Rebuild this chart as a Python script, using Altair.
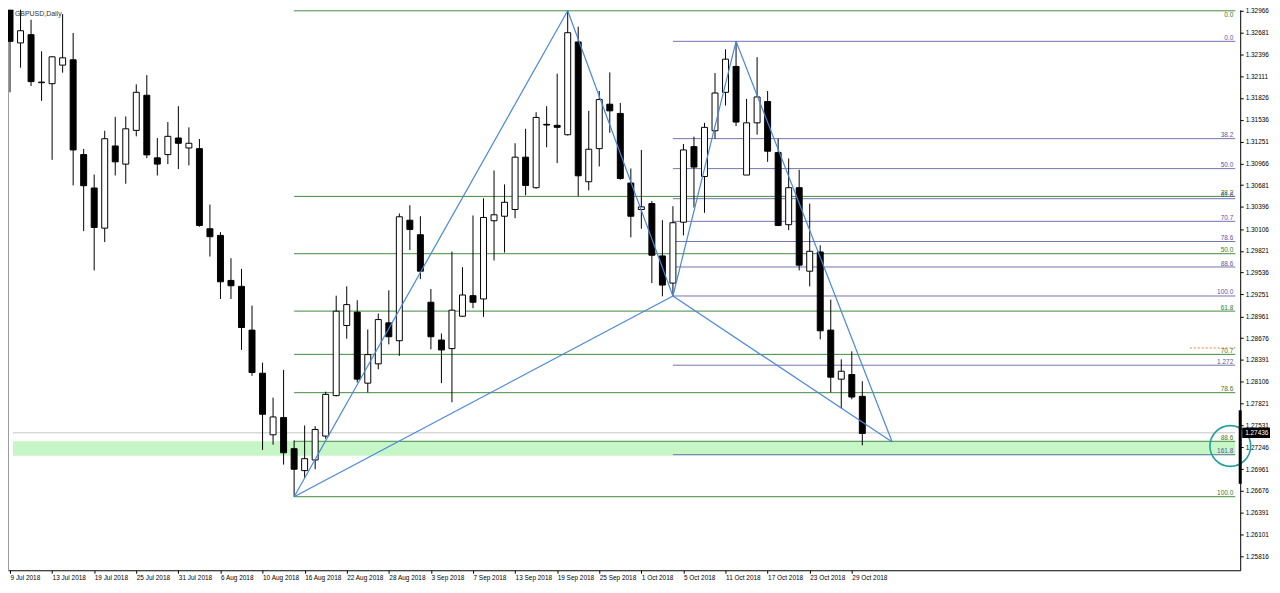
import altair as alt
import pandas as pd

# ---------------- data ----------------
tick_idx = [0, 4, 8, 12, 16, 20, 24, 28, 32, 36, 40, 44, 48, 52, 56, 60, 64, 68, 72, 76, 80]
tick_labels = ["9 Jul 2018", "13 Jul 2018", "19 Jul 2018", "25 Jul 2018", "31 Jul 2018",
               "6 Aug 2018", "10 Aug 2018", "16 Aug 2018", "22 Aug 2018", "28 Aug 2018",
               "3 Sep 2018", "7 Sep 2018", "13 Sep 2018", "19 Sep 2018", "25 Sep 2018",
               "1 Oct 2018", "5 Oct 2018", "11 Oct 2018", "17 Oct 2018", "23 Oct 2018",
               "29 Oct 2018"]
price_ticks = [1.32966, 1.32681, 1.32396, 1.32111, 1.31826, 1.31536, 1.31251, 1.30966,
               1.30681, 1.30396, 1.30106, 1.29821, 1.29536, 1.29251, 1.28961, 1.28676,
               1.28391, 1.28106, 1.27821, 1.27531, 1.27246, 1.26961, 1.26676, 1.26391,
               1.26101, 1.25816]

open_ = [1.33083, 1.32545, 1.32653, 1.32024, 1.32011, 1.32254, 1.32324, 1.31082, 1.30644, 1.30118,
         1.31195, 1.30957, 1.31399, 1.31859, 1.31039, 1.31082, 1.31299, 1.31169, 1.31160, 1.30110,
         1.30023, 1.29433, 1.29355, 1.28782, 1.28217, 1.27410, 1.27636, 1.27228, 1.26941, 1.27080,
         1.27393, 1.27923, 1.28842, 1.29017, 1.28087, 1.28340, 1.28877, 1.28643, 1.30222, 1.30032,
         1.29147, 1.28652, 1.28539, 1.28964, 1.29233, 1.29190, 1.30215, 1.30274, 1.30362, 1.31048,
         1.30648, 1.31478, 1.31465, 1.31342, 1.32558, 1.30726, 1.31160, 1.31742, 1.31621, 1.30709,
         1.30362, 1.30440, 1.29754, 1.29398, 1.30196, 1.31186, 1.30795, 1.31394, 1.31898, 1.32237,
         1.30814, 1.31498, 1.31777, 1.31108, 1.30163, 1.30648, 1.29554, 1.29806, 1.28782, 1.28139,
         1.28200, 1.27914]
high = [1.33174, 1.33018, 1.32849, 1.32436, 1.32371, 1.32923, 1.32676, 1.31156, 1.30821, 1.31394,
        1.31577, 1.31582, 1.32002, 1.32123, 1.31299, 1.31508, 1.31716, 1.31439, 1.31286, 1.30427,
        1.30066, 1.29724, 1.29584, 1.29103, 1.28356, 1.27897, 1.28261, 1.27337, 1.27532, 1.27523,
        1.27975, 1.29233, 1.29355, 1.29173, 1.28790, 1.28998, 1.29303, 1.30310, 1.30418, 1.30274,
        1.29320, 1.28738, 1.29811, 1.29607, 1.30284, 1.30509, 1.30873, 1.30691, 1.31230, 1.31420,
        1.31638, 1.31716, 1.32142, 1.32966, 1.32758, 1.31655, 1.31915, 1.32159, 1.31759, 1.30899,
        1.31143, 1.30475, 1.30222, 1.30405, 1.31221, 1.31316, 1.31498, 1.32150, 1.32462, 1.32566,
        1.31811, 1.32358, 1.31915, 1.31290, 1.31030, 1.30883, 1.30440, 1.29893, 1.29181, 1.28399,
        1.28504, 1.28113]
low = [1.31898, 1.32220, 1.31980, 1.31785, 1.31013, 1.32155, 1.30678, 1.30079, 1.29564, 1.29936,
       1.30808, 1.30700, 1.31321, 1.31035, 1.30808, 1.30957, 1.30892, 1.30939, 1.30136, 1.29746,
       1.29190, 1.29190, 1.28522, 1.28183, 1.27211, 1.27280, 1.27019, 1.26599, 1.26846, 1.26959,
       1.27358, 1.27914, 1.28669, 1.28096, 1.27966, 1.28269, 1.28595, 1.28444, 1.29832, 1.29450,
       1.28530, 1.28087, 1.27836, 1.28955, 1.29069, 1.28955, 1.29694, 1.29798, 1.30248, 1.30548,
       1.30635, 1.31178, 1.30970, 1.31332, 1.30535, 1.30613, 1.30926, 1.31368, 1.30752, 1.29997,
       1.30110, 1.29398, 1.29225, 1.29225, 1.30023, 1.30388, 1.30319, 1.31290, 1.31725, 1.31455,
       1.30814, 1.31342, 1.30987, 1.30144, 1.30092, 1.29564, 1.29355, 1.28660, 1.27966, 1.27758,
       1.27875, 1.27272]
close = [1.32566, 1.32705, 1.32038, 1.32032, 1.32363, 1.32350, 1.31143, 1.30674, 1.30127, 1.31290,
         1.30987, 1.31420, 1.31898, 1.31078, 1.30957, 1.31321, 1.31230, 1.31230, 1.30153, 1.30006,
         1.29415, 1.29363, 1.28816, 1.28226, 1.27679, 1.27644, 1.27175, 1.26959, 1.27097, 1.27480,
         1.27940, 1.29030, 1.29116, 1.28139, 1.28461, 1.28920, 1.28695, 1.30267, 1.30101, 1.29554,
         1.28695, 1.28522, 1.29043, 1.29242, 1.29147, 1.30258, 1.30293, 1.30457, 1.31048, 1.30678,
         1.31569, 1.31469, 1.31439, 1.32679, 1.30804, 1.31152, 1.31803, 1.31655, 1.30769, 1.30274,
         1.30397, 1.29763, 1.29372, 1.30189, 1.31143, 1.30918, 1.31439, 1.31889, 1.32332, 1.31508,
         1.31498, 1.31837, 1.31126, 1.30153, 1.30648, 1.29633, 1.29815, 1.28773, 1.28165, 1.28243,
         1.27905, 1.27428]

# fibonacci levels (XA in green, BC in purple)
green_labels = ["0.0", "38.2", "50.0", "61.8", "70.7", "78.6", "88.6", "100.0"]
green_prices = [1.32966, 1.30534, 1.29783, 1.29031, 1.28464, 1.27962, 1.27325, 1.26599]
green_start = 27
purple_labels = ["0.0", "38.2", "50.0", "61.8", "70.7", "78.6", "88.6", "100.0", "1.272", "161.8"]
purple_prices = [1.32566, 1.31291, 1.30898, 1.30504, 1.30207, 1.29943, 1.29609, 1.29229, 1.28322, 1.27150]
purple_start = 63

# harmonic pattern points X, A, B, C, D
pat_names = ["X", "A", "B", "C", "D"]
pat_idx = [27, 53, 69, 63, 83.84]
pat_price = [1.26599, 1.32966, 1.32566, 1.29229, 1.27315]
pat_segments = [("X", "A"), ("A", "C"), ("X", "C"), ("C", "B"), ("B", "D"), ("C", "D")]

band_top, band_bottom = 1.27325, 1.27135
bid_price = 1.27436
orange_price, orange_start = 1.28548, 112.13
circle_idx, circle_price = 115.97, 1.27263
bar_top, bar_bottom = 1.27731, 1.26768

# ---------------- layout ----------------
X_MIN, X_MAX = 0.281, 116.44
Y_MIN, Y_MAX = 1.25635, 1.32979
W, H = 1240, 564
FONT = "Liberation Sans"

xs = alt.Scale(domain=[X_MIN, X_MAX], nice=False, zero=False)
ys = alt.Scale(domain=[Y_MIN, Y_MAX], nice=False, zero=False)

label_arr = "[" + ",".join("'%s'" % t for t in tick_labels) + "]"
xaxis = alt.Axis(values=tick_idx, labelExpr=label_arr + "[round(datum.value/4)]", title=None,
                 grid=False, labelAlign="left", labelFontSize=6.5, labelFont=FONT, tickSize=3,
                 labelPadding=1, domainColor="#000", tickColor="#000", labelColor="#000",
                 labelOverlap=False, labelFlush=False, orient="bottom")
yaxis = alt.Axis(values=price_ticks, format=".5f", title=None, grid=False, orient="right",
                 labelFontSize=6.5, labelFont=FONT, tickSize=3, labelPadding=2,
                 domainColor="#000", tickColor="#000", labelColor="#000",
                 labelOverlap=False, labelFlush=False)


def X(f):
    return alt.X(f, type="quantitative", scale=xs, axis=xaxis)


def Y(f):
    return alt.Y(f, type="quantitative", scale=ys, axis=yaxis)


df = pd.DataFrame({"i": list(range(len(open_))), "open": open_, "high": high,
                   "low": low, "close": close})

gdf = pd.DataFrame({"lab": green_labels, "p": green_prices, "x0": green_start, "x1": X_MAX})
pdf = pd.DataFrame({"lab": purple_labels, "p": purple_prices, "x0": purple_start, "x1": X_MAX})
gdf_top = gdf.iloc[:1]
gdf_rest = gdf.iloc[1:]

pt = dict(zip(pat_names, zip(pat_idx, pat_price)))
segdf = pd.DataFrame([{"x": pt[a][0], "y": pt[a][1], "x2": pt[b][0], "y2": pt[b][1]}
                      for a, b in pat_segments])

band = alt.Chart(pd.DataFrame({"x0": [X_MIN], "x1": [X_MAX], "t": [band_top], "b": [band_bottom]})).mark_rect(
    color="#c6f5c6", clip=True).encode(x=X("x0"), x2="x1", y=Y("t"), y2="b")

bid = alt.Chart(pd.DataFrame({"x0": [X_MIN], "x1": [X_MAX], "p": [bid_price]})).mark_rule(
    color="#c4c4c4", strokeWidth=1).encode(x=X("x0"), x2="x1", y=Y("p"))

left_edge = alt.Chart(pd.DataFrame({"t": [Y_MAX], "b": [Y_MIN]})).mark_rule(
    color="#9a9a9a", strokeWidth=1).encode(x=alt.value(0.5), y=Y("t"), y2="b")

green_rules = alt.Chart(gdf).mark_rule(color="#3f8a3f", strokeWidth=1, clip=True).encode(
    x=X("x0"), x2="x1", y=Y("p"))
purple_rules = alt.Chart(pdf).mark_rule(color="#7474ae", strokeWidth=1, clip=True).encode(
    x=X("x0"), x2="x1", y=Y("p"))

green_text = alt.Chart(gdf_rest).mark_text(align="right", baseline="bottom", dx=-2, dy=-0.5,
                                           fontSize=6.5, font=FONT, color="#2f7a2f").encode(
    x=X("x1"), y=Y("p"), text="lab:N")
green_text_top = alt.Chart(gdf_top).mark_text(align="right", baseline="top", dx=-2, dy=1,
                                              fontSize=6.5, font=FONT, color="#2f7a2f").encode(
    x=X("x1"), y=Y("p"), text="lab:N")
purple_text = alt.Chart(pdf).mark_text(align="right", baseline="bottom", dx=-2, dy=-0.5,
                                       fontSize=6.5, font=FONT, color="#5656a6").encode(
    x=X("x1"), y=Y("p"), text="lab:N")

orange = alt.Chart(pd.DataFrame({"x0": [orange_start], "x1": [X_MAX], "p": [orange_price]})).mark_rule(
    color="#e0803a", strokeWidth=1, strokeDash=[2, 2]).encode(x=X("x0"), x2="x1", y=Y("p"))

wicks = alt.Chart(df).mark_rule(color="#000", strokeWidth=1, clip=True).encode(
    x=X("i"), y=Y("low"), y2="high")
bodies = alt.Chart(df).mark_bar(size=6, stroke="#000", strokeWidth=1, clip=True).encode(
    x=X("i"), y=Y("open"), y2="close",
    fill=alt.condition("datum.close >= datum.open", alt.value("#ffffff"), alt.value("#000000")))

pattern = alt.Chart(segdf).mark_rule(color="#4a86dc", strokeWidth=1.2, clip=True).encode(
    x=X("x"), y=Y("y"), x2="x2", y2="y2")

circle = alt.Chart(pd.DataFrame({"x": [circle_idx], "p": [circle_price]})).mark_point(
    shape="circle", filled=False, size=1681, strokeWidth=1.6, color="#22a09a", opacity=1).encode(
    x=X("x"), y=Y("p"))

thick = alt.Chart(pd.DataFrame({"t": [bar_top], "b": [bar_bottom]})).mark_rule(
    color="#000", strokeWidth=3).encode(x=alt.value(W), y=Y("t"), y2="b")

pbox = alt.Chart(pd.DataFrame({"t": [bid_price + 0.00068], "b": [bid_price - 0.00068]})).mark_rect(
    color="#000").encode(x=alt.value(W + 2), x2=alt.value(W + 30), y=Y("t"), y2="b")
ptext = alt.Chart(pd.DataFrame({"p": [bid_price], "lab": ["1.27436"]})).mark_text(
    align="left", baseline="middle", fontSize=6.5, font=FONT, color="#fff").encode(
    x=alt.value(W + 5), y=Y("p"), text="lab:N")

title_df = pd.DataFrame({"t": ["GBPUSD,Daily"]})
title = alt.Chart(title_df).mark_text(align="left", baseline="top", fontSize=7, font=FONT,
                                      color="#333").encode(
    x=alt.value(7), y=alt.value(0), text="t:N")
tri = alt.Chart(pd.DataFrame({"t": ["▼"]})).mark_text(align="left", baseline="top", fontSize=5,
                                                      color="#000").encode(
    x=alt.value(1), y=alt.value(1), text="t:N")

chart = alt.layer(band, bid, left_edge, green_rules, purple_rules, green_text, green_text_top,
                  purple_text, orange, wicks, bodies, pattern, circle, thick, pbox, ptext,
                  title, tri).properties(
    width=W, height=H, background="#ffffff",
    autosize=alt.AutoSizeParams(type="none"),
    padding={"left": 0, "top": 0, "right": 32, "bottom": 12}
).configure_view(stroke=None)

chart.save("out.html", embed_options={"renderer": "svg", "actions": False})
